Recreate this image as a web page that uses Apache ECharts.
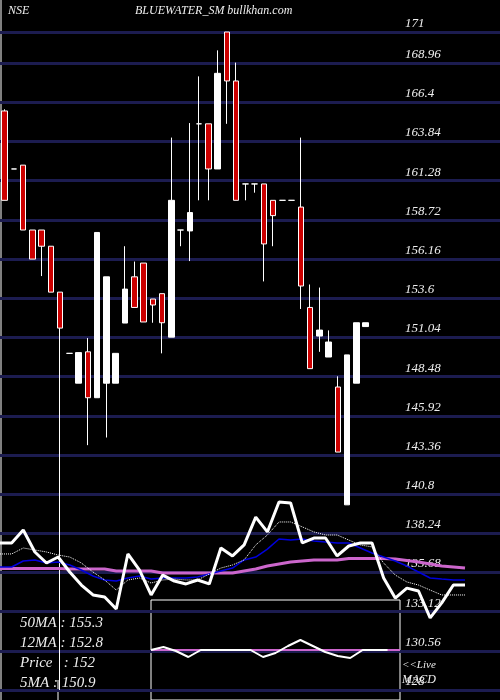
<!DOCTYPE html><html><head><meta charset="utf-8">
<script src="https://cdn.jsdelivr.net/npm/echarts@6/dist/echarts.min.js"></script>
<style>html,body{margin:0;background:#000}#c{width:500px;height:700px}</style></head><body><div id="c"></div>
<script>
// candles: [open, close, low, high]
const candles = [
[165.84,160.0,160.0,165.95],[162.05,162.05,162.05,162.05],[162.3,158.06,158.06,162.3],[158.06,156.16,156.16,158.06],
[158.06,157.0,155.05,158.06],[157.0,154.0,154.0,157.0],[154.0,151.65,128,154.0],[150.0,150.0,150.0,150.0],
[148.05,150.05,148.05,150.05],[150.1,147.1,144.0,151.0],[147.1,157.9,147.1,157.9],[148.05,155.0,144.5,155.0],
[148.05,150.0,148.05,150.0],[151.98,154.2,151.98,157.0],[155.0,153.0,153.0,156.0],[155.9,152.05,152.05,155.9],
[153.55,153.16,152.0,153.55],[153.9,152.0,150.0,153.9],[151.06,160.0,151.06,164.1],[158.06,158.06,157.0,158.06],
[158.0,159.2,156.03,165.05],[165.0,165.0,160.0,168.1],[165.0,162.05,160.0,165.0],[162.05,168.3,162.05,169.8],
[171.0,167.8,165.0,171.0],[167.8,160.0,160.0,169.0],[161.07,161.07,160.0,161.07],[161.07,161.07,160.5,161.07],
[161.07,157.15,154.7,161.07],[160.0,159.0,157.0,160.0],[160.0,160.0,160.0,160.0],[160.0,160.0,160.0,160.0],
[159.56,154.4,152.9,164.1],[153.0,149.0,149.0,154.5],[151.13,151.52,150.1,154.3],[149.76,150.74,149.76,151.5],
[147.8,143.55,143.55,148.5],[140.1,149.9,140.1,149.9],[148.05,152.0,148.05,152.0],[151.75,152.0,151.75,152.0]
];
const whiteLine = [137.61,137.61,138.46,137.02,136.30,136.69,135.71,134.86,134.21,134.08,133.29,136.89,135.84,134.21,135.51,135.12,134.93,135.19,134.93,137.28,136.76,137.48,139.30,138.33,140.29,140.22,137.61,137.93,137.93,136.76,137.41,137.61,137.61,135.32,134.01,134.66,134.47,132.71,133.69,134.86,134.86];
const blueLine = [136.04,136.04,136.43,136.50,136.30,136.36,136.17,135.84,135.45,135.19,135.12,135.32,135.45,135.25,135.32,135.32,135.32,135.38,135.58,135.78,135.97,136.50,136.69,137.21,137.87,137.80,137.87,137.74,137.67,137.61,137.61,137.28,136.95,136.69,136.43,136.10,135.71,135.32,135.25,135.19,135.19];
const pinkLine = [135.94,135.94,135.94,135.94,135.94,135.94,135.91,135.91,135.91,135.91,135.78,135.78,135.78,135.78,135.65,135.65,135.65,135.65,135.65,135.65,135.65,135.78,135.91,136.10,136.23,136.36,136.43,136.50,136.50,136.50,136.59,136.59,136.59,136.59,136.56,136.46,136.36,136.23,136.10,136.04,135.97];
const dotLine = [136.89,136.89,137.28,137.15,137.02,136.82,136.69,136.30,135.71,135.19,134.53,135.19,135.32,134.99,135.19,135.25,135.19,135.19,135.58,135.97,136.17,136.50,137.48,138.13,138.98,138.98,138.66,138.33,138.13,138.13,137.80,137.48,137.35,136.30,135.51,135.06,134.86,134.53,134.21,134.21,134.21];
const macdLine = [0,3,-1,-7,0,0,0,0,0,-7,-3,4,10,4,-2,-6,-8,0,0,0];
const signalLine = [0,0,0,0,0,0,0,0,0,0,0,0,0,0,0,0,0,0,0,0,0];
const legendLines = ['50MA : 155.3','12MA : 152.8','Price   : 152','5MA : 150.9'];

const cats = Array.from({length:54},(_,i)=>i);
const txt = {fill:'#eee',font:'italic 14px "Liberation Serif", serif'};
const ch = echarts.init(document.getElementById('c'));
ch.setOption({
  backgroundColor:'#000', animation:false,
  grid:[{left:-3,right:0,top:32,bottom:10},{left:0,right:35,top:32,bottom:10},
        {left:151,right:100,top:600,bottom:-1,show:true,backgroundColor:'#000',borderColor:'#fff',borderWidth:1}],
  xAxis:[{type:'category',data:cats,gridIndex:0,show:false},
         {type:'category',data:whiteLine.map((_,i)=>i),boundaryGap:false,gridIndex:1,show:false},
         {type:'category',data:signalLine.map((_,i)=>i),boundaryGap:false,gridIndex:2,show:false}],
  yAxis:[{type:'value',min:128,max:171,interval:2.56,gridIndex:0,position:'left',
          axisLine:{show:false},axisTick:{show:false},
          splitLine:{lineStyle:{color:'#1c1c50',width:3}},
          axisLabel:{margin:-405,align:'left',verticalAlign:'bottom',padding:[0,0,2,0],color:'#eee',
            fontFamily:'Liberation Serif',fontStyle:'italic',fontSize:13,showMaxLabel:true,
            formatter:v=>String(parseFloat(v.toFixed(2)))}},
         {type:'value',min:128,max:171,gridIndex:1,show:false,splitLine:{show:false}},
         {type:'value',min:-50,max:50,gridIndex:2,show:false,splitLine:{show:false}}],
  series:[
    {type:'candlestick',data:candles,xAxisIndex:0,yAxisIndex:0,barWidth:6,
     itemStyle:{color:'#fff',color0:'#cc0000',borderColor:'#fff',borderColor0:'#fff',borderWidth:1}},
    {type:'line',data:pinkLine,xAxisIndex:1,yAxisIndex:1,symbol:'none',lineStyle:{color:'#cc66cc',width:3}},
    {type:'line',data:blueLine,xAxisIndex:1,yAxisIndex:1,symbol:'none',lineStyle:{color:'#0000dd',width:1.5}},
    {type:'line',data:dotLine,xAxisIndex:1,yAxisIndex:1,symbol:'none',lineStyle:{color:'#fff',width:1,type:'dotted'}},
    {type:'line',data:whiteLine,xAxisIndex:1,yAxisIndex:1,symbol:'none',lineStyle:{color:'#fff',width:3}},
    {type:'line',data:signalLine,xAxisIndex:2,yAxisIndex:2,symbol:'none',lineStyle:{color:'#cc66cc',width:2}},
    {type:'line',data:macdLine,xAxisIndex:2,yAxisIndex:2,symbol:'none',lineStyle:{color:'#fff',width:2}}
  ],
  graphic:[
    {type:'text',left:8,top:5,style:Object.assign({text:'NSE'},txt,{font:'italic 12px "Liberation Serif", serif'})},
    {type:'text',left:135,top:5,style:Object.assign({text:'BLUEWATER_SM bullkhan.com'},txt,{font:'italic 12px "Liberation Serif", serif'})},
    {type:'line',shape:{x1:1,y1:0,x2:1,y2:700},style:{stroke:'#fff',lineWidth:1}},
    {type:'line',shape:{x1:58,y1:680,x2:58,y2:700},style:{stroke:'#fff',lineWidth:1}},
    ...legendLines.map((t,i)=>({type:'text',left:20,top:616+i*20,style:Object.assign({text:t},txt,{font:'italic 15px "Liberation Serif", serif'})})),
    {type:'text',left:402,top:660,style:Object.assign({text:'<<Live'},txt,{font:'italic 11px "Liberation Serif", serif'})},
    {type:'text',left:402,top:674,style:Object.assign({text:'MACD'},txt,{font:'italic 12px "Liberation Serif", serif'})}
  ]
});
</script></body></html>
